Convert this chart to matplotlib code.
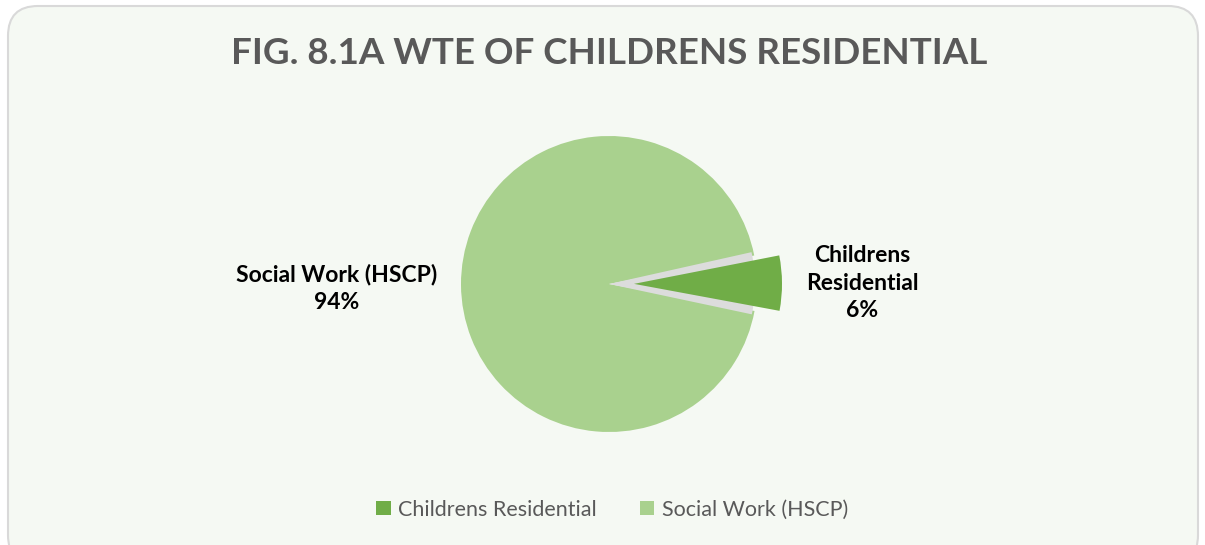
import matplotlib.pyplot as plt
from matplotlib.patches import FancyBboxPatch, Wedge

# data
labels = ['Childrens Residential', 'Social Work (HSCP)']
values = [6, 94]
pct_labels = ['Childrens\nResidential\n6%', 'Social Work (HSCP)\n94%']
colors = ['#70AD47', '#A9D18E']

plt.rcParams['font.family'] = ['Lato', 'DejaVu Sans']

fig = plt.figure(figsize=(12.05, 5.45), dpi=100)
fig.patch.set_facecolor('white')
ax = fig.add_axes([0, 0, 1, 1])

cx, cy, r = 609, 261, 148
start = -10.5

wedges, _ = ax.pie(values, colors=colors, startangle=start, counterclock=True,
                   center=(cx, cy), radius=r, explode=[25, 0],
                   wedgeprops=dict(linewidth=0), frame=True)
wedges[1].set_zorder(1)
wedges[0].set_zorder(3)

# shadow in the gap left by the exploded slice
ang = 360 * values[0] / sum(values)
ax.add_patch(Wedge((cx, cy), r - 2, start - 1.5, start + ang + 1.5, facecolor='#DCDCDC',
                   edgecolor='none', zorder=2))

# rounded chart area
box = FancyBboxPatch((8, -20), 1190, 559, boxstyle='round,pad=0,rounding_size=30',
                     facecolor='#F5F9F3', edgecolor='#D9D9D9', linewidth=1.5, zorder=-1)
ax.add_patch(box)

ax.set_xlim(0, 1205)
ax.set_ylim(0, 545)
ax.set_aspect('equal')
ax.axis('off')

ax.text(862, 262, pct_labels[0], ha='center', va='center', fontsize=16.5,
        fontweight='bold', color='black', linespacing=1.4)
ax.text(337, 257, pct_labels[1], ha='center', va='center', fontsize=16.5,
        fontweight='bold', color='black', linespacing=1.4)

ax.text(609, 492, 'FIG. 8.1A WTE OF CHILDRENS RESIDENTIAL', ha='center', va='center',
        fontsize=26.5, fontweight='bold', color='#595959')

leg = ax.legend(wedges, labels, loc='center', bbox_to_anchor=(0.508, 0.065),
                bbox_transform=fig.transFigure, ncol=2, frameon=False,
                fontsize=15.5, labelcolor='#595959', handlelength=0.68,
                handleheight=0.68, columnspacing=2.0, handletextpad=0.35)

fig.savefig('out.png', dpi=100, facecolor='white')
